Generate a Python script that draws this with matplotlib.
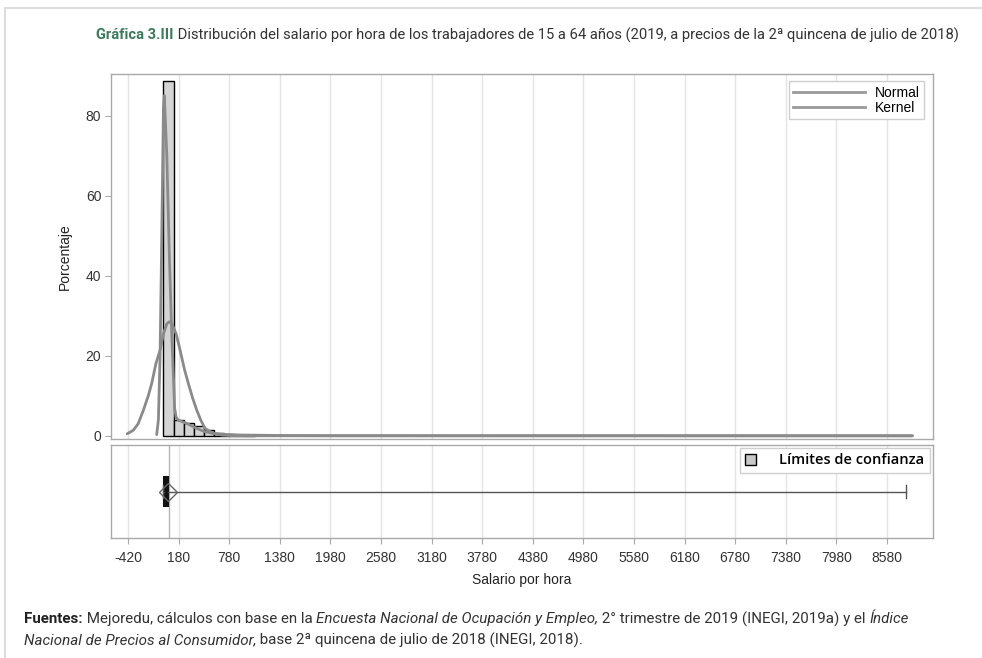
import matplotlib.pyplot as plt
from matplotlib.patches import Patch, Rectangle
from matplotlib.lines import Line2D

# histogram (percent per bin of 120 pesos)
bin_left = [0, 120, 240, 360, 480, 600, 720, 840, 960]
bin_pct = [88.7, 3.9, 3.1, 2.4, 1.4, 0.75, 0.4, 0.2, 0.1]
bin_width = 120

# fitted normal curve
normal_x = [-430, -357, -300, -238, -180, -139, -90, -40, 0, 40, 70, 100, 150,
            197, 250, 295, 345, 395, 445, 493, 592, 700, 800, 1000, 8880]
normal_y = [0.5, 1.4, 3.0, 6.4, 10.0, 13.1, 18.0, 21.4, 25.5, 28.0, 28.5, 28.0, 25.5,
            21.4, 16.5, 13.1, 9.5, 6.4, 3.8, 1.85, 0.6, 0.15, 0.05, 0.0, 0.0]

# kernel density
kernel_x = [-80, -60, -40, -20, 0, 10, 40, 70, 98, 118, 132, 150, 177, 276, 395,
            493, 592, 700, 900, 1100, 1500, 2000, 8880]
kernel_y = [0.3, 4, 20, 50, 82, 85, 70, 45, 25.6, 15, 7, 4.6, 3.9, 3.1, 1.85,
            1.0, 0.6, 0.35, 0.2, 0.15, 0.05, 0.02, 0.0]

# box plot statistics
box_stats = [dict(whislo=0, q1=8, med=30, q3=55, whishi=8805, mean=58)]
mean_line = 70

x_ticks = [-420, 180, 780, 1380, 1980, 2580, 3180, 3780, 4380, 4980, 5580,
           6180, 6780, 7380, 7980, 8580]
y_ticks = [0, 20, 40, 60, 80]

axis_font = 'Liberation Sans'
text_font = 'Roboto'
spine_c = '#a9a9a9'
curve_c = '#8a8a8a'

fig = plt.figure(figsize=(9.82, 6.58), dpi=100)
ax1 = fig.add_axes([111 / 982, 1 - 439 / 658, 822 / 982, 365 / 658])
ax2 = fig.add_axes([111 / 982, 1 - 538 / 658, 822 / 982, 93 / 658])

xlim = (-622, 9125)

# upper panel: histogram + curves
ax1.bar(bin_left, bin_pct, width=bin_width, align='edge', color='#d4d4d4',
        edgecolor='black', linewidth=1, zorder=2)
ax1.plot(normal_x, normal_y, color=curve_c, lw=2, solid_capstyle='round', zorder=3)
ax1.plot(kernel_x, kernel_y, color=curve_c, lw=2, solid_capstyle='round', zorder=3)
ax1.set_xlim(xlim)
ax1.set_ylim(-0.8, 90.4)
ax1.set_xticks(x_ticks)
ax1.set_xticklabels([])
ax1.tick_params(axis='x', length=0)
ax1.set_yticks(y_ticks)
ax1.set_yticklabels([str(v) for v in y_ticks], fontfamily=axis_font, fontsize=10, color='#333333')
ax1.tick_params(axis='y', length=4, color=spine_c, pad=3)
ax1.grid(axis='x', color='#e4e4e4', lw=1, zorder=0)
ax1.set_axisbelow(True)
ax1.set_ylabel('Porcentaje', fontfamily=axis_font, fontsize=10, color='#222222', labelpad=10)

leg = ax1.legend([Line2D([], [], color='#999999', lw=2), Line2D([], [], color='#999999', lw=2)],
                 ['Normal', 'Kernel'], loc='upper right', bbox_to_anchor=(0.9975, 0.9985),
                 prop={'family': axis_font, 'size': 10}, handlelength=5.2, handletextpad=0.7,
                 labelspacing=0.1, borderpad=0.3, fancybox=False, framealpha=1,
                 edgecolor='#cfcfcf', markerfirst=True)
leg.get_frame().set_linewidth(1)

# lower panel: box plot
ax2.axvline(mean_line, color='#b4b4b4', lw=1, zorder=1)
ax2.bxp(box_stats, positions=[0.5], widths=0.32, orientation='horizontal',
        patch_artist=True, showmeans=True, showfliers=False, capwidths=[0.14],
        boxprops=dict(facecolor='#111111', edgecolor='#111111', lw=1.5),
        medianprops=dict(color='#111111', lw=1),
        whiskerprops=dict(color='#555555', lw=1),
        capprops=dict(color='#555555', lw=1),
        meanprops=dict(marker='D', markerfacecolor='none', markeredgecolor='#666666',
                       markersize=9, markeredgewidth=1))
ax2.set_xlim(xlim)
ax2.set_ylim(0, 1)
ax2.set_yticks([])
ax2.set_xticks(x_ticks)
ax2.set_xticklabels([str(v) for v in x_ticks], fontfamily=axis_font, fontsize=10, color='#333333')
ax2.tick_params(axis='x', length=4, color=spine_c, pad=5)
ax2.grid(axis='x', color='#e4e4e4', lw=1, zorder=0)
ax2.set_axisbelow(True)
ax2.set_xlabel('Salario por hora', fontfamily=axis_font, fontsize=10, color='#222222', labelpad=6)

leg2 = ax2.legend([Patch(facecolor='#c8c8c8', edgecolor='black', lw=1)],
                  ['Límites de confianza'], loc='upper right', bbox_to_anchor=(0.9995, 0.995),
                  prop={'family': 'Open Sans', 'size': 10.5, 'weight': 'semibold'},
                  handlelength=0.75, handleheight=0.75, handletextpad=1.6, borderpad=0.35,
                  borderaxespad=0.2, fancybox=False, framealpha=1, edgecolor='#cfcfcf')
leg2.get_frame().set_linewidth(1)

for ax in (ax1, ax2):
    for s in ax.spines.values():
        s.set_color(spine_c)
        s.set_linewidth(1)

# outer card frame
fig.patches.append(Rectangle((5 / 982, -0.1), 1.2, 1.1 - 8 / 658, transform=fig.transFigure,
                             fill=False, edgecolor='#dddddd', lw=1.5))

renderer = fig.canvas.get_renderer()


def write_runs(x, y, runs, size):
    # place text pieces one after another on a line (x, y in pixels from top-left)
    px = x
    for txt, kw in runs:
        t = fig.text(px / 982, 1 - y / 658, txt, fontsize=size, va='center', ha='left',
                     fontfamily=text_font, **kw)
        px += t.get_window_extent(renderer).width


write_runs(96, 35, [
    ('Gráfica 3.III', dict(color='#3c7a5b', fontweight='bold')),
    (' Distribución del salario por hora de los trabajadores de 15 a 64 años '
     '(2019, a precios de la 2ª quincena de julio de 2018)', dict(color='#333333')),
], 10.6)

write_runs(24, 619, [
    ('Fuentes:', dict(color='#222222', fontweight='bold')),
    (' Mejoredu, cálculos con base en la ', dict(color='#333333')),
    ('Encuesta Nacional de Ocupación y Empleo,', dict(color='#333333', fontstyle='italic')),
    (' 2° trimestre de 2019 (INEGI, 2019a) y el ', dict(color='#333333')),
    ('Índice', dict(color='#333333', fontstyle='italic')),
], 10.9)
write_runs(24, 640, [
    ('Nacional de Precios al Consumidor,', dict(color='#333333', fontstyle='italic')),
    (' base 2ª quincena de julio de 2018 (INEGI, 2018).', dict(color='#333333')),
], 10.9)

fig.savefig('out.png', dpi=100)
